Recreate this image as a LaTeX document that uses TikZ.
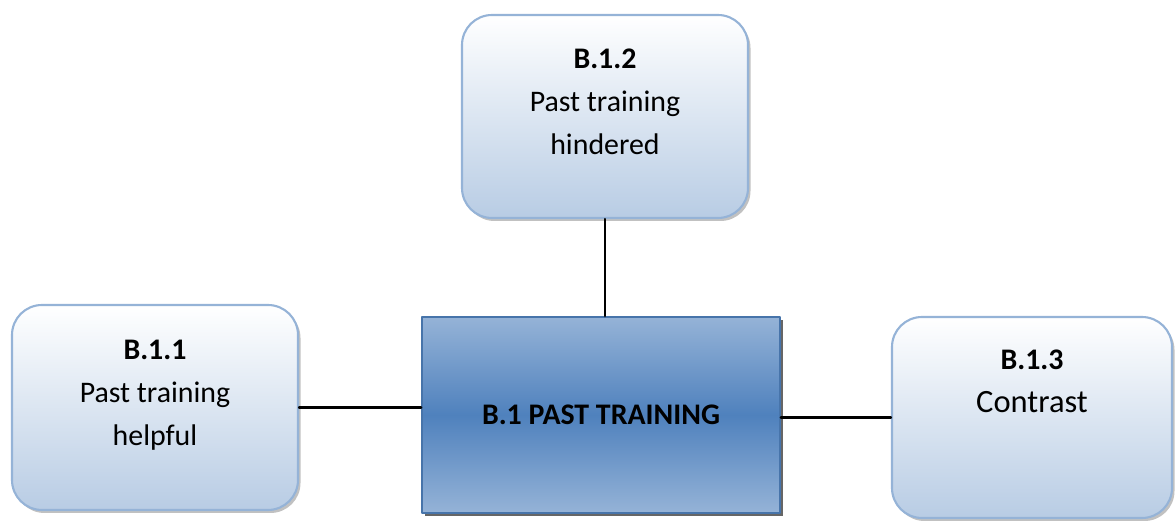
\documentclass[tikz,border=0pt]{standalone}
\usepackage{fontspec}
\setmainfont{Carlito}
\usetikzlibrary{shadows}
\definecolor{boxline}{RGB}{149,179,215}
\definecolor{boxlow}{RGB}{184,204,228}
\definecolor{midblue}{RGB}{79,129,189}
\definecolor{midlight}{RGB}{149,179,215}
\tikzset{
	subbox/.style={draw=boxline, line width=1.2pt, rounded corners=0.6cm,
		top color=white, bottom color=boxlow, inner sep=0pt,
		minimum width=5.72cm, minimum height=4.06cm,
		drop shadow={shadow xshift=0.05cm, shadow yshift=-0.06cm, fill=gray!60, opacity=0.8}},
	mainbox/.style={draw=midblue!90!black, line width=1pt,
		top color=midlight, bottom color=midlight, middle color=midblue,
		minimum width=7.16cm, minimum height=3.92cm, inner sep=0pt,
		drop shadow={shadow xshift=0.06cm, shadow yshift=-0.06cm, fill=black!60, opacity=1}},
	link/.style={line width=1.4pt}
}
\newcommand{\boxtext}[2]{\parbox[c][3.5cm][t]{5.4cm}{\vspace*{0.4cm}\centering\fontsize{17}{24.5}\selectfont\textbf{#1}\\#2}}
\begin{document}
\begin{tikzpicture}[line join=round, line cap=round]
	\useasboundingbox (0,0) rectangle (23.52,10.42);
	% main box
	\node[mainbox] (ctr) at (12.02,2.12) {\fontsize{17}{20}\selectfont\textbf{B.1 PAST TRAINING}};
	% sub boxes
	\node[subbox] (b12) at (12.1,8.09) {\boxtext{B.1.2}{Past training\\hindered}};
	\node[subbox, minimum height=4.1cm] (b11) at (3.1,2.27) {\boxtext{B.1.1}{Past training\\helpful}};
	\node[subbox, minimum width=5.6cm, minimum height=4.02cm] (b13) at (20.64,2.07) {\boxtext{B.1.3}{\fontsize{18.5}{24.5}\selectfont Contrast}};
	% connectors
	\draw[link] (b12.south) -- (b12.south |- ctr.north);
	\draw[link] (b11.east) -- (b11.east -| ctr.west);
	\draw[link] (b13.west) -- (b13.west -| ctr.east);
\end{tikzpicture}
\end{document}
